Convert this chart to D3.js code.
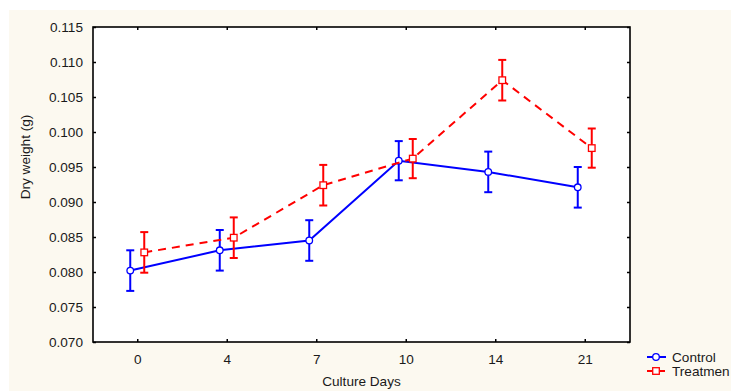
<!DOCTYPE html>
<html>
<head>
<meta charset="utf-8">
<script src="https://cdn.jsdelivr.net/npm/d3@7"></script>
<style>
  body { margin: 0; background: #ffffff; }
  svg { display: block; font-family: "Liberation Sans", Arial, sans-serif; }
  .tick text { font-size: 13.6px; fill: #1a1a1a; }
</style>
</head>
<body>
<svg width="731" height="391"></svg>
<script>
// DATA
let days = ["0", "4", "7", "10", "14", "21"];
let controlMean = [0.0802, 0.0831, 0.0845, 0.0959, 0.0943, 0.0921];
let controlErr  = [0.0029, 0.0029, 0.0029, 0.0028, 0.0029, 0.0029];
let treatMean   = [0.0828, 0.0849, 0.0924, 0.0962, 0.1074, 0.0977];
let treatErr    = [0.0029, 0.0029, 0.0029, 0.0028, 0.0029, 0.0028];
let yTicks = [0.070, 0.075, 0.080, 0.085, 0.090, 0.095, 0.100, 0.105, 0.110, 0.115];

// PAGE SETUP
let plot = {left: 93, top: 27, right: 630, bottom: 342};

let svg = d3.select("svg");

svg.append("rect")
  .attr("x", 9).attr("y", 10)
  .attr("width", 722).attr("height", 381)
  .attr("fill", "#fcf9f0");

svg.append("rect")
  .attr("x", plot.left).attr("y", plot.top)
  .attr("width", plot.right - plot.left).attr("height", plot.bottom - plot.top)
  .attr("fill", "#ffffff");

// SCALES
let x = d3.scaleBand()
  .domain(days)
  .range([plot.left, plot.right]);

let y = d3.scaleLinear()
  .domain([0.070, 0.115])
  .range([plot.bottom, plot.top]);

// AXES (ticks point inward on all four sides)
svg.append("g")
  .attr("transform", `translate(${plot.left},0)`)
  .call(d3.axisLeft(y).tickValues(yTicks).tickFormat(d3.format(".3f")).tickSize(-3).tickPadding(10))
  .call(g => g.select(".domain").remove());

svg.append("g")
  .attr("transform", `translate(${plot.right},0)`)
  .call(d3.axisRight(y).tickValues(yTicks).tickFormat("").tickSize(-3))
  .call(g => g.select(".domain").remove());

svg.append("g")
  .attr("transform", `translate(0,${plot.bottom})`)
  .call(d3.axisBottom(x).tickSize(-3).tickPadding(12))
  .call(g => g.select(".domain").remove());

svg.append("g")
  .attr("transform", `translate(0,${plot.top})`)
  .call(d3.axisTop(x).tickSize(-3).tickFormat(""))
  .call(g => g.select(".domain").remove());

svg.selectAll(".tick line").attr("stroke", "#000").attr("stroke-width", 1.5);

svg.append("rect")
  .attr("x", plot.left).attr("y", plot.top)
  .attr("width", plot.right - plot.left).attr("height", plot.bottom - plot.top)
  .attr("fill", "none")
  .attr("stroke", "#000")
  .attr("stroke-width", 1.6);

// axis titles
svg.append("text")
  .attr("x", (plot.left + plot.right) / 2)
  .attr("y", 386)
  .attr("text-anchor", "middle")
  .attr("font-size", 13.6)
  .attr("fill", "#1a1a1a")
  .text("Culture Days");

svg.append("text")
  .attr("transform", "translate(30,157) rotate(-90)")
  .attr("text-anchor", "middle")
  .attr("font-size", 13.6)
  .attr("fill", "#1a1a1a")
  .text("Dry weight (g)");

// SERIES
let series = [
  {name: "Control", mean: controlMean, err: controlErr, color: "#0000ff", dash: null, shift: -7.5, marker: "circle"},
  {name: "Treatmen", mean: treatMean, err: treatErr, color: "#ff0000", dash: "8,6", shift: 6.5, marker: "square"}
];

let cx = (s, i) => x(days[i]) + x.bandwidth() / 2 + s.shift;

series.forEach(function(s){
  let pts = s.mean.map((m, i) => ({i: i, m: m, e: s.err[i]}));
  let g = svg.append("g");

  g.append("path")
    .datum(pts)
    .attr("fill", "none")
    .attr("stroke", s.color)
    .attr("stroke-width", 2)
    .attr("stroke-dasharray", s.dash)
    .attr("d", d3.line().x(d => cx(s, d.i)).y(d => y(d.m)));

  // error bars
  let bars = g.selectAll(".err")
    .data(pts)
    .enter()
    .append("g");

  bars.append("line")
    .attr("x1", d => cx(s, d.i)).attr("x2", d => cx(s, d.i))
    .attr("y1", d => y(d.m - d.e)).attr("y2", d => y(d.m + d.e))
    .attr("stroke", s.color).attr("stroke-width", 2);

  [1, -1].forEach(function(sign){
    bars.append("line")
      .attr("x1", d => cx(s, d.i) - 4).attr("x2", d => cx(s, d.i) + 4)
      .attr("y1", d => y(d.m + sign * d.e)).attr("y2", d => y(d.m + sign * d.e))
      .attr("stroke", s.color).attr("stroke-width", 2);
  });

  // markers
  if (s.marker == "circle"){
    g.selectAll(".mk").data(pts).enter()
      .append("circle")
      .attr("cx", d => cx(s, d.i)).attr("cy", d => y(d.m))
      .attr("r", 3.3)
      .attr("fill", "#fff").attr("stroke", s.color).attr("stroke-width", 1.3);
  }
  else {
    g.selectAll(".mk").data(pts).enter()
      .append("rect")
      .attr("x", d => cx(s, d.i) - 3.3).attr("y", d => y(d.m) - 3.3)
      .attr("width", 6.6).attr("height", 6.6)
      .attr("fill", "#fff").attr("stroke", s.color).attr("stroke-width", 1.3);
  }
});

// LEGEND
let legend = svg.append("g");
series.forEach(function(s, k){
  let ly = 357 + k * 14;
  legend.append("line")
    .attr("x1", 647).attr("x2", 666)
    .attr("y1", ly).attr("y2", ly)
    .attr("stroke", s.color).attr("stroke-width", 2)
    .attr("stroke-dasharray", s.dash ? "5,3,2,3" : null);
  if (s.marker == "circle"){
    legend.append("circle")
      .attr("cx", 656).attr("cy", ly).attr("r", 3.3)
      .attr("fill", "#fff").attr("stroke", s.color).attr("stroke-width", 1.3);
  }
  else {
    legend.append("rect")
      .attr("x", 652.7).attr("y", ly - 3.3).attr("width", 6.6).attr("height", 6.6)
      .attr("fill", "#fff").attr("stroke", s.color).attr("stroke-width", 1.3);
  }
  legend.append("text")
    .attr("x", 672).attr("y", ly + 4.5)
    .attr("font-size", 13.6)
    .attr("fill", "#1a1a1a")
    .text(s.name);
});
</script>
</body>
</html>
